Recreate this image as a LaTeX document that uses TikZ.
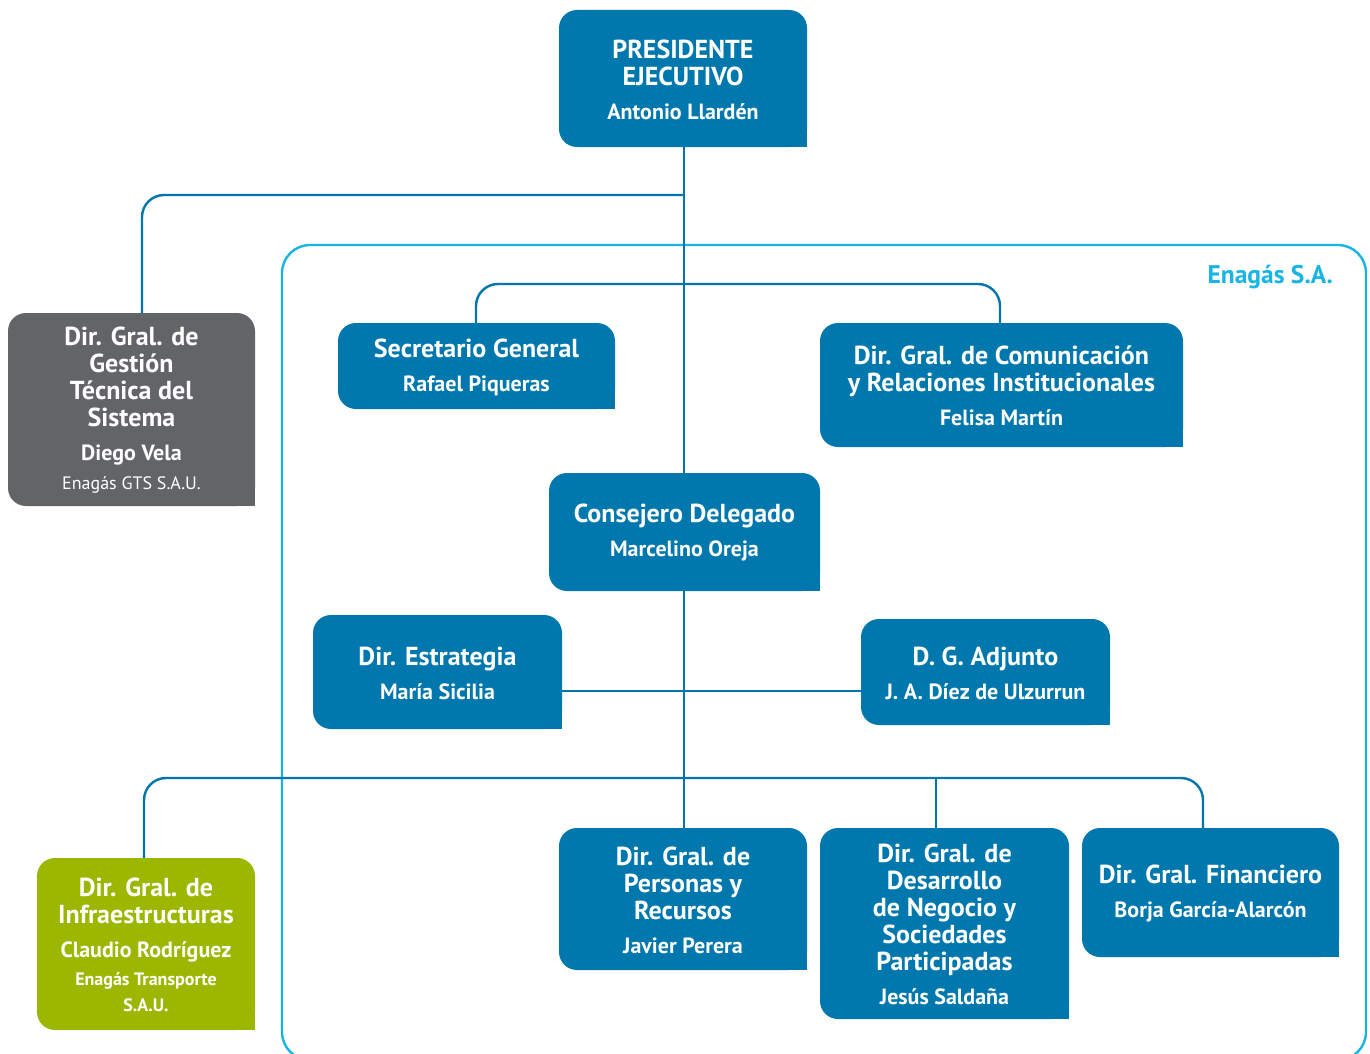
\documentclass[tikz,border=0pt]{standalone}
\usepackage{fontspec}
\setmainfont{PT Sans}
\definecolor{boxblue}{RGB}{0,120,173}
\definecolor{linec}{RGB}{0,118,170}
\definecolor{cyanf}{RGB}{23,181,228}
\definecolor{boxgray}{RGB}{98,100,104}
\definecolor{boxgreen}{RGB}{155,183,0}
\newcommand\ttl[1]{{\bfseries\fontsize{26}{27}\selectfont #1}}
\newcommand\nme[1]{{\bfseries\fontsize{22}{27}\selectfont #1}}
\newcommand\sml[1]{{\mdseries\fontsize{18}{27}\selectfont #1}}
\newcommand\smb[1]{{\bfseries\fontsize{18}{27}\selectfont #1}}
\tikzset{
  conn/.style={draw=linec, line width=2.4pt},
  frame/.style={draw=cyanf, line width=2.4pt},
  boxtext/.style={text=white, align=center, inner sep=0pt, font=\fontsize{22}{27}\selectfont}
}
\newcommand\obox[7]{%
  \pgfmathsetmacro\bxa{#2}\pgfmathsetmacro\bya{#3}%
  \pgfmathsetmacro\bxb{#4}\pgfmathsetmacro\byb{#5}%
  \pgfmathsetmacro\bxc{(#2+#4)/2}\pgfmathsetmacro\byc{(#3+#5)/2+1}%
  \pgfmathsetmacro\bxs{#4-18}\pgfmathsetmacro\bys{#5-18}%
  \pgfmathsetmacro\bw{#4-#2}\pgfmathsetmacro\bh{#5-#3}%
  \fill[#6, rounded corners=18pt] (\bxa,\bya) rectangle (\bxb,\byb);
  \fill[#6] (\bxs,\bys) rectangle (\bxb,\byb);
  \node[boxtext, minimum width=\bw pt, minimum height=\bh pt] (#1) at (\bxc,\byc) {#7};}
\begin{document}
\begin{tikzpicture}[x=1pt,y=-1pt]
\clip (0,0) rectangle (1370,1054);
\fill[white] (0,0) rectangle (1370,1054);
\draw[frame, rounded corners=28pt] (282,245) rectangle (1366,1060);
\node[anchor=east, text=cyanf, font=\bfseries\fontsize{25.5}{27}\selectfont, inner sep=0pt] (ensa) at (1333,277) {Enagás S.A.};
\coordinate (j1) at (684,195);
\coordinate (j2) at (684,284);
\coordinate (j3) at (684,778);
\coordinate (presS) at (684,147);
\coordinate (persN) at (684,828);
\coordinate (grayN) at (142,313);
\coordinate (secN) at (476,323);
\coordinate (comN) at (1000,323);
\coordinate (estE) at (562,691);
\coordinate (adjW) at (861,691);
\coordinate (infN) at (144,858);
\coordinate (finN) at (1203,828);
\coordinate (desN) at (936,828);
\draw[conn] (presS) -- (persN);
\draw[conn, rounded corners=22pt] (j1) -| (grayN);
\draw[conn, rounded corners=22pt] (secN) |- (j2) -| (comN);
\draw[conn] (estE) -- (adjW);
\draw[conn, rounded corners=22pt] (infN) |- (j3) -| (finN);
\draw[conn] (desN) |- (j3);
\obox{pres}{559}{10}{807}{147}{boxblue}{\ttl{PRESIDENTE}\\\ttl{EJECUTIVO}\\[7pt]\nme{Antonio Llardén}}
\obox{gray}{8}{313}{255}{506}{boxgray}{\ttl{Dir. Gral. de}\\\ttl{Gestión}\\\ttl{Técnica del}\\\ttl{Sistema}\\[7pt]\nme{Diego Vela}\\[2pt]\sml{Enagás GTS S.A.U.}}
\obox{sec}{338}{323}{615}{409}{boxblue}{\ttl{Secretario General}\\[7pt]\nme{Rafael Piqueras}}
\obox{com}{820}{323}{1183}{447}{boxblue}{\ttl{Dir. Gral. de Comunicación}\\\ttl{y Relaciones Institucionales}\\[7pt]\nme{Felisa Martín}}
\obox{cons}{549}{473}{820}{591}{boxblue}{\ttl{Consejero Delegado}\\[7pt]\nme{Marcelino Oreja}}
\obox{est}{313}{615}{562}{729}{boxblue}{\ttl{Dir. Estrategia}\\[7pt]\nme{María Sicilia}}
\obox{adj}{861}{619}{1110}{725}{boxblue}{\ttl{D. G. Adjunto}\\[7pt]\nme{J. A. Díez de Ulzurrun}}
\obox{inf}{37}{858}{255}{1030}{boxgreen}{\ttl{Dir. Gral. de}\\\ttl{Infraestructuras}\\[7pt]\nme{Claudio Rodríguez}\\[1pt]\smb{Enagás Transporte}\\[-1pt]\smb{S.A.U.}}
\obox{pers}{559}{828}{807}{970}{boxblue}{\ttl{Dir. Gral. de}\\\ttl{Personas y}\\\ttl{Recursos}\\[7pt]\nme{Javier Perera}}
\obox{des}{820}{828}{1069}{1019}{boxblue}{\ttl{Dir. Gral. de}\\\ttl{Desarrollo}\\\ttl{de Negocio y}\\\ttl{Sociedades}\\\ttl{Participadas}\\[7pt]\nme{Jesús Saldaña}}
\obox{fin}{1082}{828}{1339}{957}{boxblue}{\ttl{Dir. Gral. Financiero}\\[7pt]\nme{Borja García-Alarcón}}
\end{tikzpicture}
\end{document}
